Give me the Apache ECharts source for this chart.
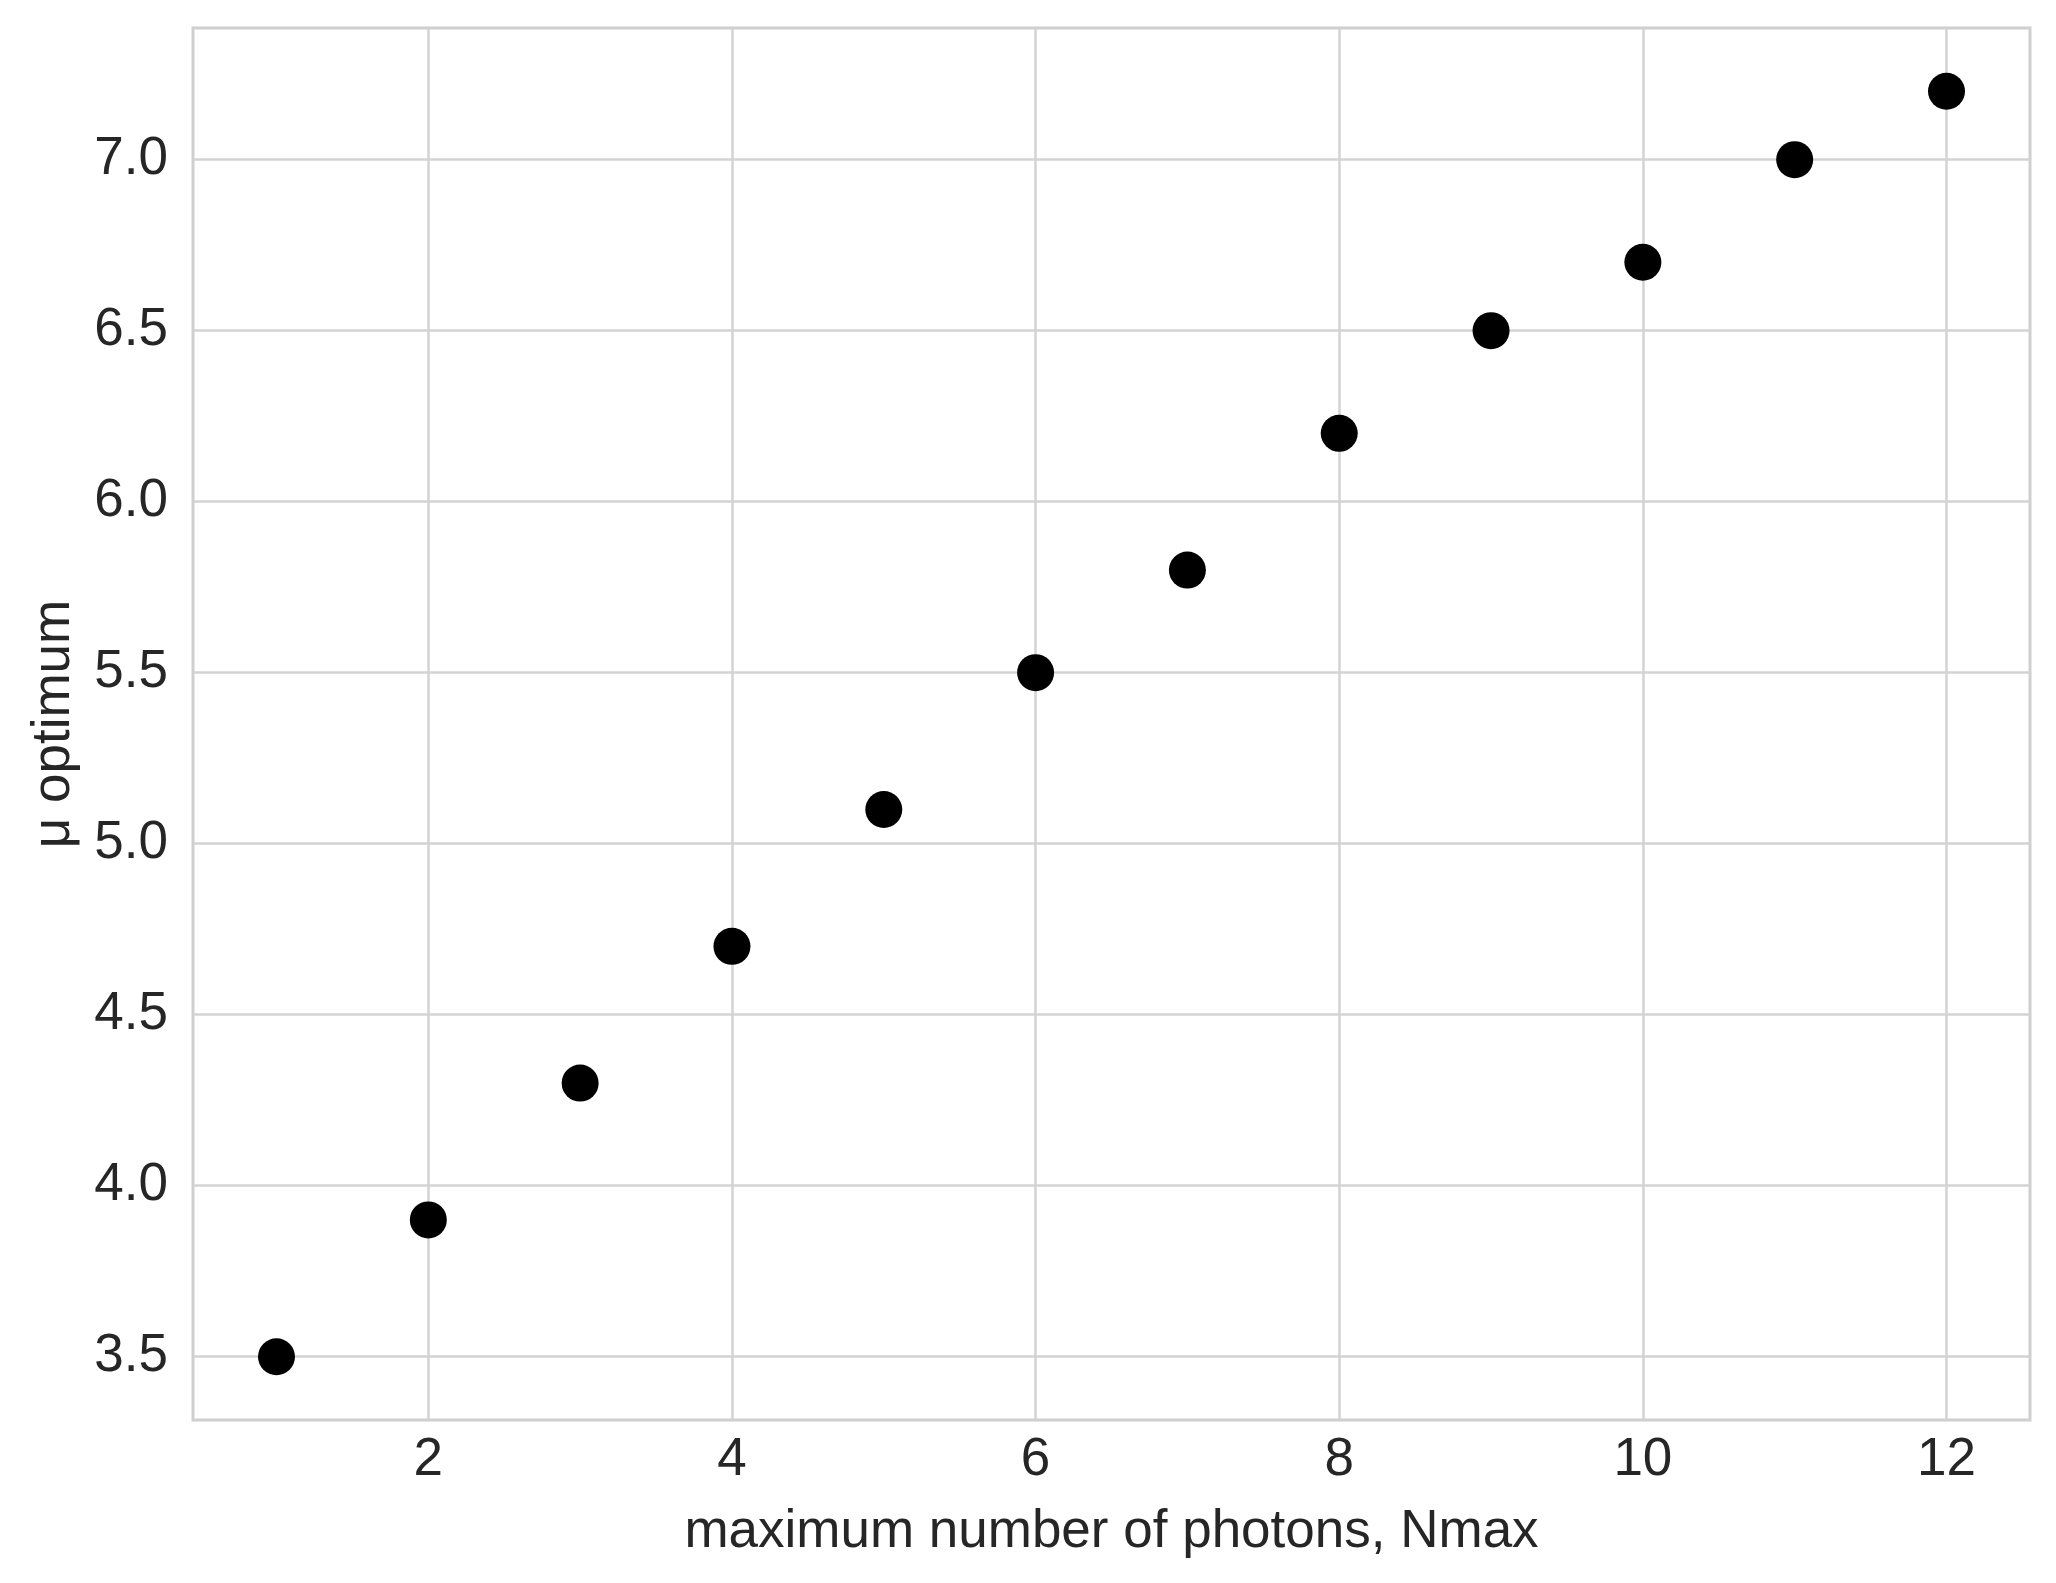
<!DOCTYPE html>
<html>
<head>
<meta charset="utf-8">
<script src="https://cdn.jsdelivr.net/npm/echarts@6/dist/echarts.min.js"></script>
<style>
html,body{margin:0;padding:0;background:#fff;}
#chart{width:2056px;height:1583px;}
</style>
</head>
<body>
<div id="chart"></div>
<script>
const nmax = [1, 2, 3, 4, 5, 6, 7, 8, 9, 10, 11, 12];
const muOptimum = [3.5, 3.9, 4.3, 4.7, 5.1, 5.5, 5.8, 6.2, 6.5, 6.7, 7.0, 7.2];
const xTicks = [2, 4, 6, 8, 10, 12];
const yTicks = [3.5, 4.0, 4.5, 5.0, 5.5, 6.0, 6.5, 7.0];
const xName = 'maximum number of photons, Nmax';
const yName = 'μ optimum';

const FONT = "'Liberation Sans', Arial, sans-serif";
const FS = 53;
const textColor = '#262626';
const gridColor = '#d3d3d3';

const chart = echarts.init(document.getElementById('chart'));
chart.setOption({
  animation: false,
  backgroundColor: '#ffffff',
  grid: {
    left: 193, right: 26, top: 28, bottom: 163,
    show: true, borderColor: '#cfcfcf', borderWidth: 3, backgroundColor: '#ffffff'
  },
  xAxis: {
    type: 'value',
    min: 0.45, max: 12.55,
    name: xName,
    nameLocation: 'middle',
    nameGap: 86,
    nameTextStyle: { fontFamily: FONT, fontSize: FS, color: textColor },
    axisLine: { show: false },
    axisTick: { show: false, customValues: xTicks },
    axisLabel: {
      customValues: xTicks, margin: 14,
      fontFamily: FONT, fontSize: FS, color: textColor
    },
    splitLine: { show: true, lineStyle: { color: gridColor, width: 2.5 } }
  },
  yAxis: {
    type: 'value',
    min: 3.315, max: 7.385,
    name: yName,
    nameLocation: 'middle',
    nameGap: 112,
    nameRotate: 90,
    nameTextStyle: { fontFamily: FONT, fontSize: FS, color: textColor },
    axisLine: { show: false },
    axisTick: { show: false, customValues: yTicks },
    axisLabel: {
      customValues: yTicks, margin: 25,
      fontFamily: FONT, fontSize: FS, color: textColor,
      formatter: v => v.toFixed(1)
    },
    splitLine: { show: true, lineStyle: { color: gridColor, width: 2.5 } }
  },
  series: [{
    type: 'scatter',
    data: nmax.map((x, i) => [x, muOptimum[i]]),
    symbol: 'circle',
    symbolSize: 37,
    itemStyle: { color: '#000000', opacity: 1 },
    z: 5
  }]
});
</script>
</body>
</html>
